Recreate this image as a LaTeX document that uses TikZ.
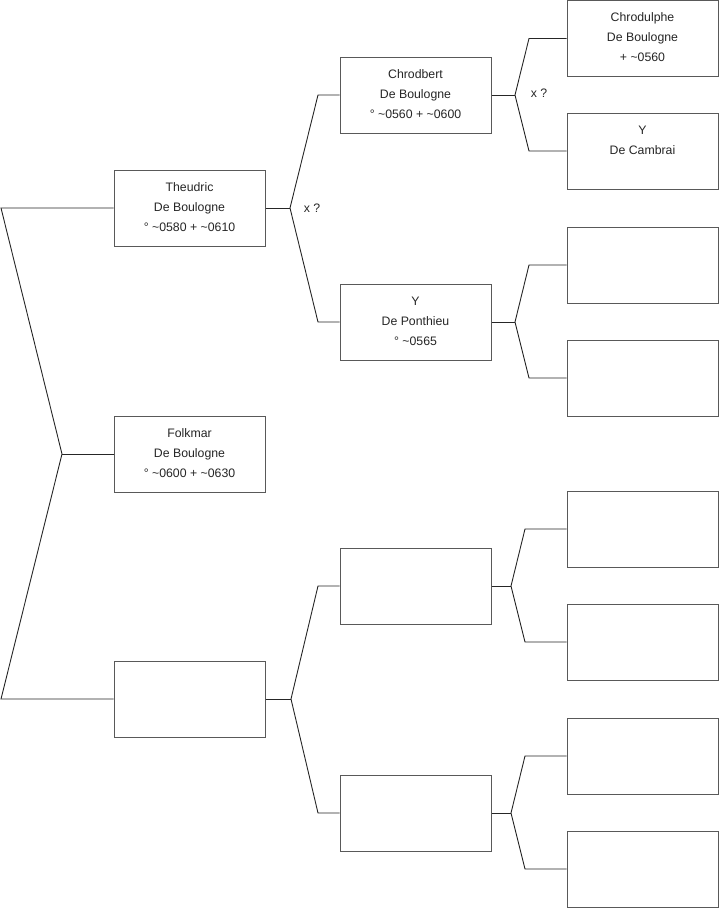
\documentclass[tikz,border=0pt]{standalone}
\usepackage{fontspec}
\setmainfont{Liberation Sans}
\begin{document}
\begin{tikzpicture}[x=1pt,y=-1pt,
  pbox/.style={draw=black!65, line width=1pt, minimum width=151pt, minimum height=76pt, inner sep=0pt, fill=white},
  ptext/.style={anchor=base, inner sep=0pt, text=black!85, font=\fontsize{12.3}{20}\selectfont},
  link/.style={draw=black!85, line width=0.9pt},
  marrlabel/.style={inner sep=0pt, text=black!85, font=\fontsize{12.3}{15}\selectfont}]
\useasboundingbox (0,0) rectangle (719,908);
% generation 1
\node[pbox] (t1) at (189.5,208) {};
\node[pbox] (f) at (189.5,454) {};
\node[pbox] (e1) at (189.5,699) {};
% generation 2
\node[pbox] (c) at (415.5,95) {};
\node[pbox] (p) at (415.5,322) {};
\node[pbox] (e2a) at (415.5,586) {};
\node[pbox] (e2b) at (415.5,813) {};
% generation 3
\node[pbox] (g1) at (642.5,38.5) {};
\node[pbox] (g2) at (642.5,151) {};
\node[pbox] (g3) at (642.5,265) {};
\node[pbox] (g4) at (642.5,378) {};
\node[pbox] (g5) at (642.5,529) {};
\node[pbox] (g6) at (642.5,642) {};
\node[pbox] (g7) at (642.5,756) {};
\node[pbox] (g8) at (642.5,869) {};
% texts
\node[ptext] (t1t) at ([yshift=-21.5pt]t1.north) {\begin{tabular}[t]{@{}c@{}}Theudric\\De Boulogne\\° \textasciitilde0580 + \textasciitilde0610\end{tabular}};
\node[ptext] (ft) at ([yshift=-21.5pt]f.north) {\begin{tabular}[t]{@{}c@{}}Folkmar\\De Boulogne\\° \textasciitilde0600 + \textasciitilde0630\end{tabular}};
\node[ptext] (ct) at ([yshift=-21.5pt]c.north) {\begin{tabular}[t]{@{}c@{}}Chrodbert\\De Boulogne\\° \textasciitilde0560 + \textasciitilde0600\end{tabular}};
\node[ptext] (pt) at ([yshift=-21.5pt]p.north) {\begin{tabular}[t]{@{}c@{}}Y\\De Ponthieu\\° \textasciitilde0565\end{tabular}};
\node[ptext] (g1t) at ([yshift=-21.5pt]g1.north) {\begin{tabular}[t]{@{}c@{}}Chrodulphe\\De Boulogne\\+ \textasciitilde0560\end{tabular}};
\node[ptext] (g2t) at ([yshift=-21.5pt]g2.north) {\begin{tabular}[t]{@{}c@{}}Y\\De Cambrai\end{tabular}};
% junction coordinates
\coordinate (j0a) at (1,208); \coordinate (j0) at (62,454); \coordinate (j0b) at (1,699);
\coordinate (j1) at (290,208); \coordinate (j1a) at (318,95); \coordinate (j1b) at (318,322);
\coordinate (j2) at (515,95); \coordinate (j2a) at (529,38.5); \coordinate (j2b) at (529,151);
\coordinate (j3) at (515,322); \coordinate (j3a) at (529,265); \coordinate (j3b) at (529,378);
\coordinate (j4) at (291,699); \coordinate (j4a) at (318,586); \coordinate (j4b) at (318,813);
\coordinate (j5) at (511,586); \coordinate (j5a) at (525,529); \coordinate (j5b) at (525,642);
\coordinate (j6) at (511,813); \coordinate (j6a) at (525,756); \coordinate (j6b) at (525,869);
% connectors
\draw[link] (t1.west) -- (j0a) -- (j0) -- (j0b) -- (e1.west);
\draw[link] (j0) -- (f.west);
\draw[link] (t1.east) -- (j1); \draw[link] (c.west) -- (j1a) -- (j1) -- (j1b) -- (p.west);
\draw[link] (c.east) -- (j2); \draw[link] (g1.west) -- (j2a) -- (j2) -- (j2b) -- (g2.west);
\draw[link] (p.east) -- (j3); \draw[link] (g3.west) -- (j3a) -- (j3) -- (j3b) -- (g4.west);
\draw[link] (e1.east) -- (j4); \draw[link] (e2a.west) -- (j4a) -- (j4) -- (j4b) -- (e2b.west);
\draw[link] (e2a.east) -- (j5); \draw[link] (g5.west) -- (j5a) -- (j5) -- (j5b) -- (g6.west);
\draw[link] (e2b.east) -- (j6); \draw[link] (g7.west) -- (j6a) -- (j6) -- (j6b) -- (g8.west);
% marriage marks
\node[marrlabel] (m1) at (312,208) {x ?};
\node[marrlabel] (m2) at (539,93) {x ?};
\end{tikzpicture}
\end{document}
